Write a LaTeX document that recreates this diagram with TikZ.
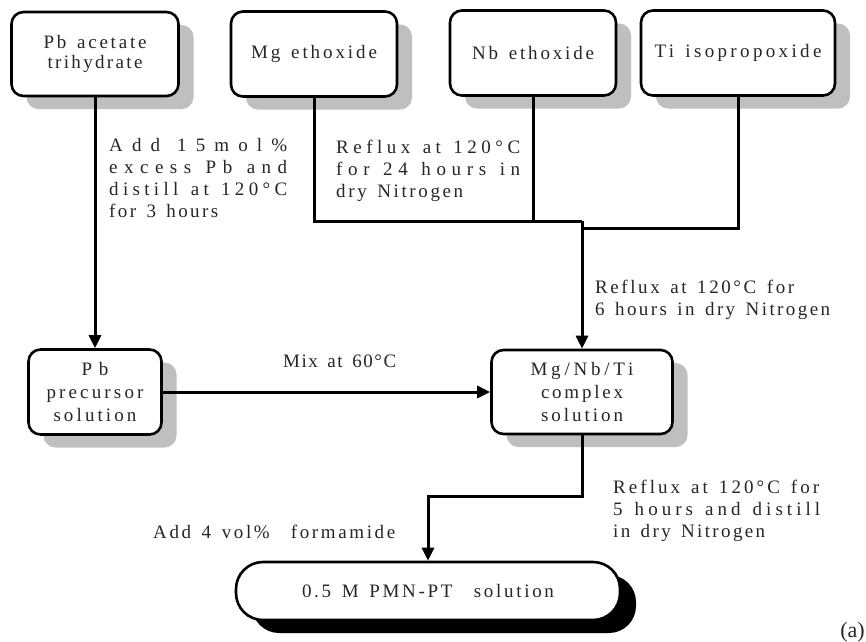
\documentclass[tikz,border=0pt]{standalone}
\usepackage{fontspec}
\setmainfont{Liberation Serif}[LetterSpace=13]
\usetikzlibrary{arrows.meta,shadows}
\makeatletter
\newdimen\lsA \newdimen\lsB
% \lsw{target width in pt}{text}: letter-space the text to the given width
\protected\def\lsw#1#2{{%
  \setbox0\hbox{\addfontfeature{LetterSpace=0}\spaceskip=0.42em\relax #2}\lsA=\wd0
  \setbox0\hbox{\addfontfeature{LetterSpace=10}\spaceskip=0.52em\relax #2}\lsB=\wd0
  \edef\lsval{\strip@pt\dimexpr(#1pt-\lsA)*655360/\number\dimexpr\lsB-\lsA\relax\relax}%
  \edef\lstmp{\noexpand\addfontfeature{LetterSpace=\lsval}}\lstmp
  \spaceskip=\dimexpr0.42em+\lsval\dimexpr0.01em\relax\relax
  #2}}
\makeatother
\begin{document}
\begin{tikzpicture}[x=1pt,y=-1pt,
  every node/.style={font=\fontsize{19}{22}\selectfont, text=black!85},
  box/.style={draw=black, line width=2.6pt, rounded corners=12pt, fill=white,
    inner sep=0pt, align=center,
    drop shadow={shadow xshift=15pt, shadow yshift=-13pt, fill=black!25, opacity=1}},
  pill/.style={draw=black, line width=2.6pt, rounded corners=27pt, fill=white,
    inner sep=0pt, align=center,
    drop shadow={shadow xshift=16pt, shadow yshift=-13pt, fill=black, opacity=1}},
  link/.style={line width=3pt, line join=miter, draw=black},
  arr/.style={link, -{Triangle[length=13pt,width=12pt]}},
  lbl/.style={anchor=base west, align=left, inner sep=0pt}]
\useasboundingbox[fill=white] (0,0) rectangle (866,641);

% boxes
\node[box, minimum width=167pt, minimum height=84pt, font=\fontsize{19}{20}\selectfont] (pba) at (95,54) {\lsw{103}{Pb acetate}\\\lsw{95}{trihydrate}};
\node[box, minimum width=166pt, minimum height=85pt] (mg) at (314,54) {\lsw{126}{Mg ethoxide}};
\node[box, minimum width=166pt, minimum height=85pt] (nb) at (533,53) {\lsw{122}{Nb ethoxide}};
\node[box, minimum width=194pt, minimum height=85pt] (ti) at (738,53) {\lsw{167}{Ti isopropoxide}};
\node[box, minimum width=133pt, minimum height=85pt, font=\fontsize{19}{23}\selectfont] (pbp) at (95,392) {\lsw{27}{Pb}\\\lsw{97}{precursor}\\\lsw{83}{solution}};
\node[box, minimum width=181pt, minimum height=84pt, font=\fontsize{19}{23}\selectfont] (mnt) at (582,392) {\lsw{103}{Mg/Nb/Ti}\\\lsw{82}{complex}\\\lsw{82}{solution}};
\node[pill, minimum width=384pt, minimum height=58pt] (pill) at (428,591) {\lsw{252}{0.5 M PMN-PT\ \ solution}};

% connectors
\coordinate (j1) at (582,221);
\coordinate (j2) at (582,228);
\coordinate (j3) at (582,496);
\draw[link] (mg.south) |- (j1);
\draw[link] (nb.south) -- (nb.south |- j1);
\draw[link] (ti.south) |- (j2);
\draw[arr] (j1) -- (mnt.north);
\draw[arr] (pba.south) -- (pbp.north);
\draw[arr] (pbp.east) -- (mnt.west);
\draw[arr] (mnt.south) -- (j3) -| (pill.north);

% labels (base anchor = baseline of last line)
\node[lbl] (l1) at (109,217) {\lsw{178}{Add 15mol\%}\\\lsw{178}{excess Pb and}\\\lsw{178}{distill at 120°C}\\\lsw{109}{for 3 hours}};
\node[lbl] (l2) at (336,197) {\lsw{184}{Reflux at 120°C}\\\lsw{184}{for 24 hours in}\\\lsw{127}{dry Nitrogen}};
\node[lbl] (l3) at (595,315) {\lsw{199}{Reflux at 120°C for}\\\lsw{235}{6 hours in dry Nitrogen}};
\node[lbl] (l4) at (283,367) {\lsw{113}{Mix at 60°C}};
\node[lbl] (l5) at (613,537) {\lsw{206}{Reflux at 120°C for}\\\lsw{207}{5 hours and distill}\\\lsw{152}{in dry Nitrogen}};
\node[lbl] (l6) at (153,538) {\lsw{242}{Add 4 vol\%\ \ formamide}};
\node[anchor=base east, inner sep=0pt, font=\fontsize{22}{22}\selectfont\addfontfeature{LetterSpace=0}] (cap) at (865,637) {(a)};
\end{tikzpicture}
\end{document}
